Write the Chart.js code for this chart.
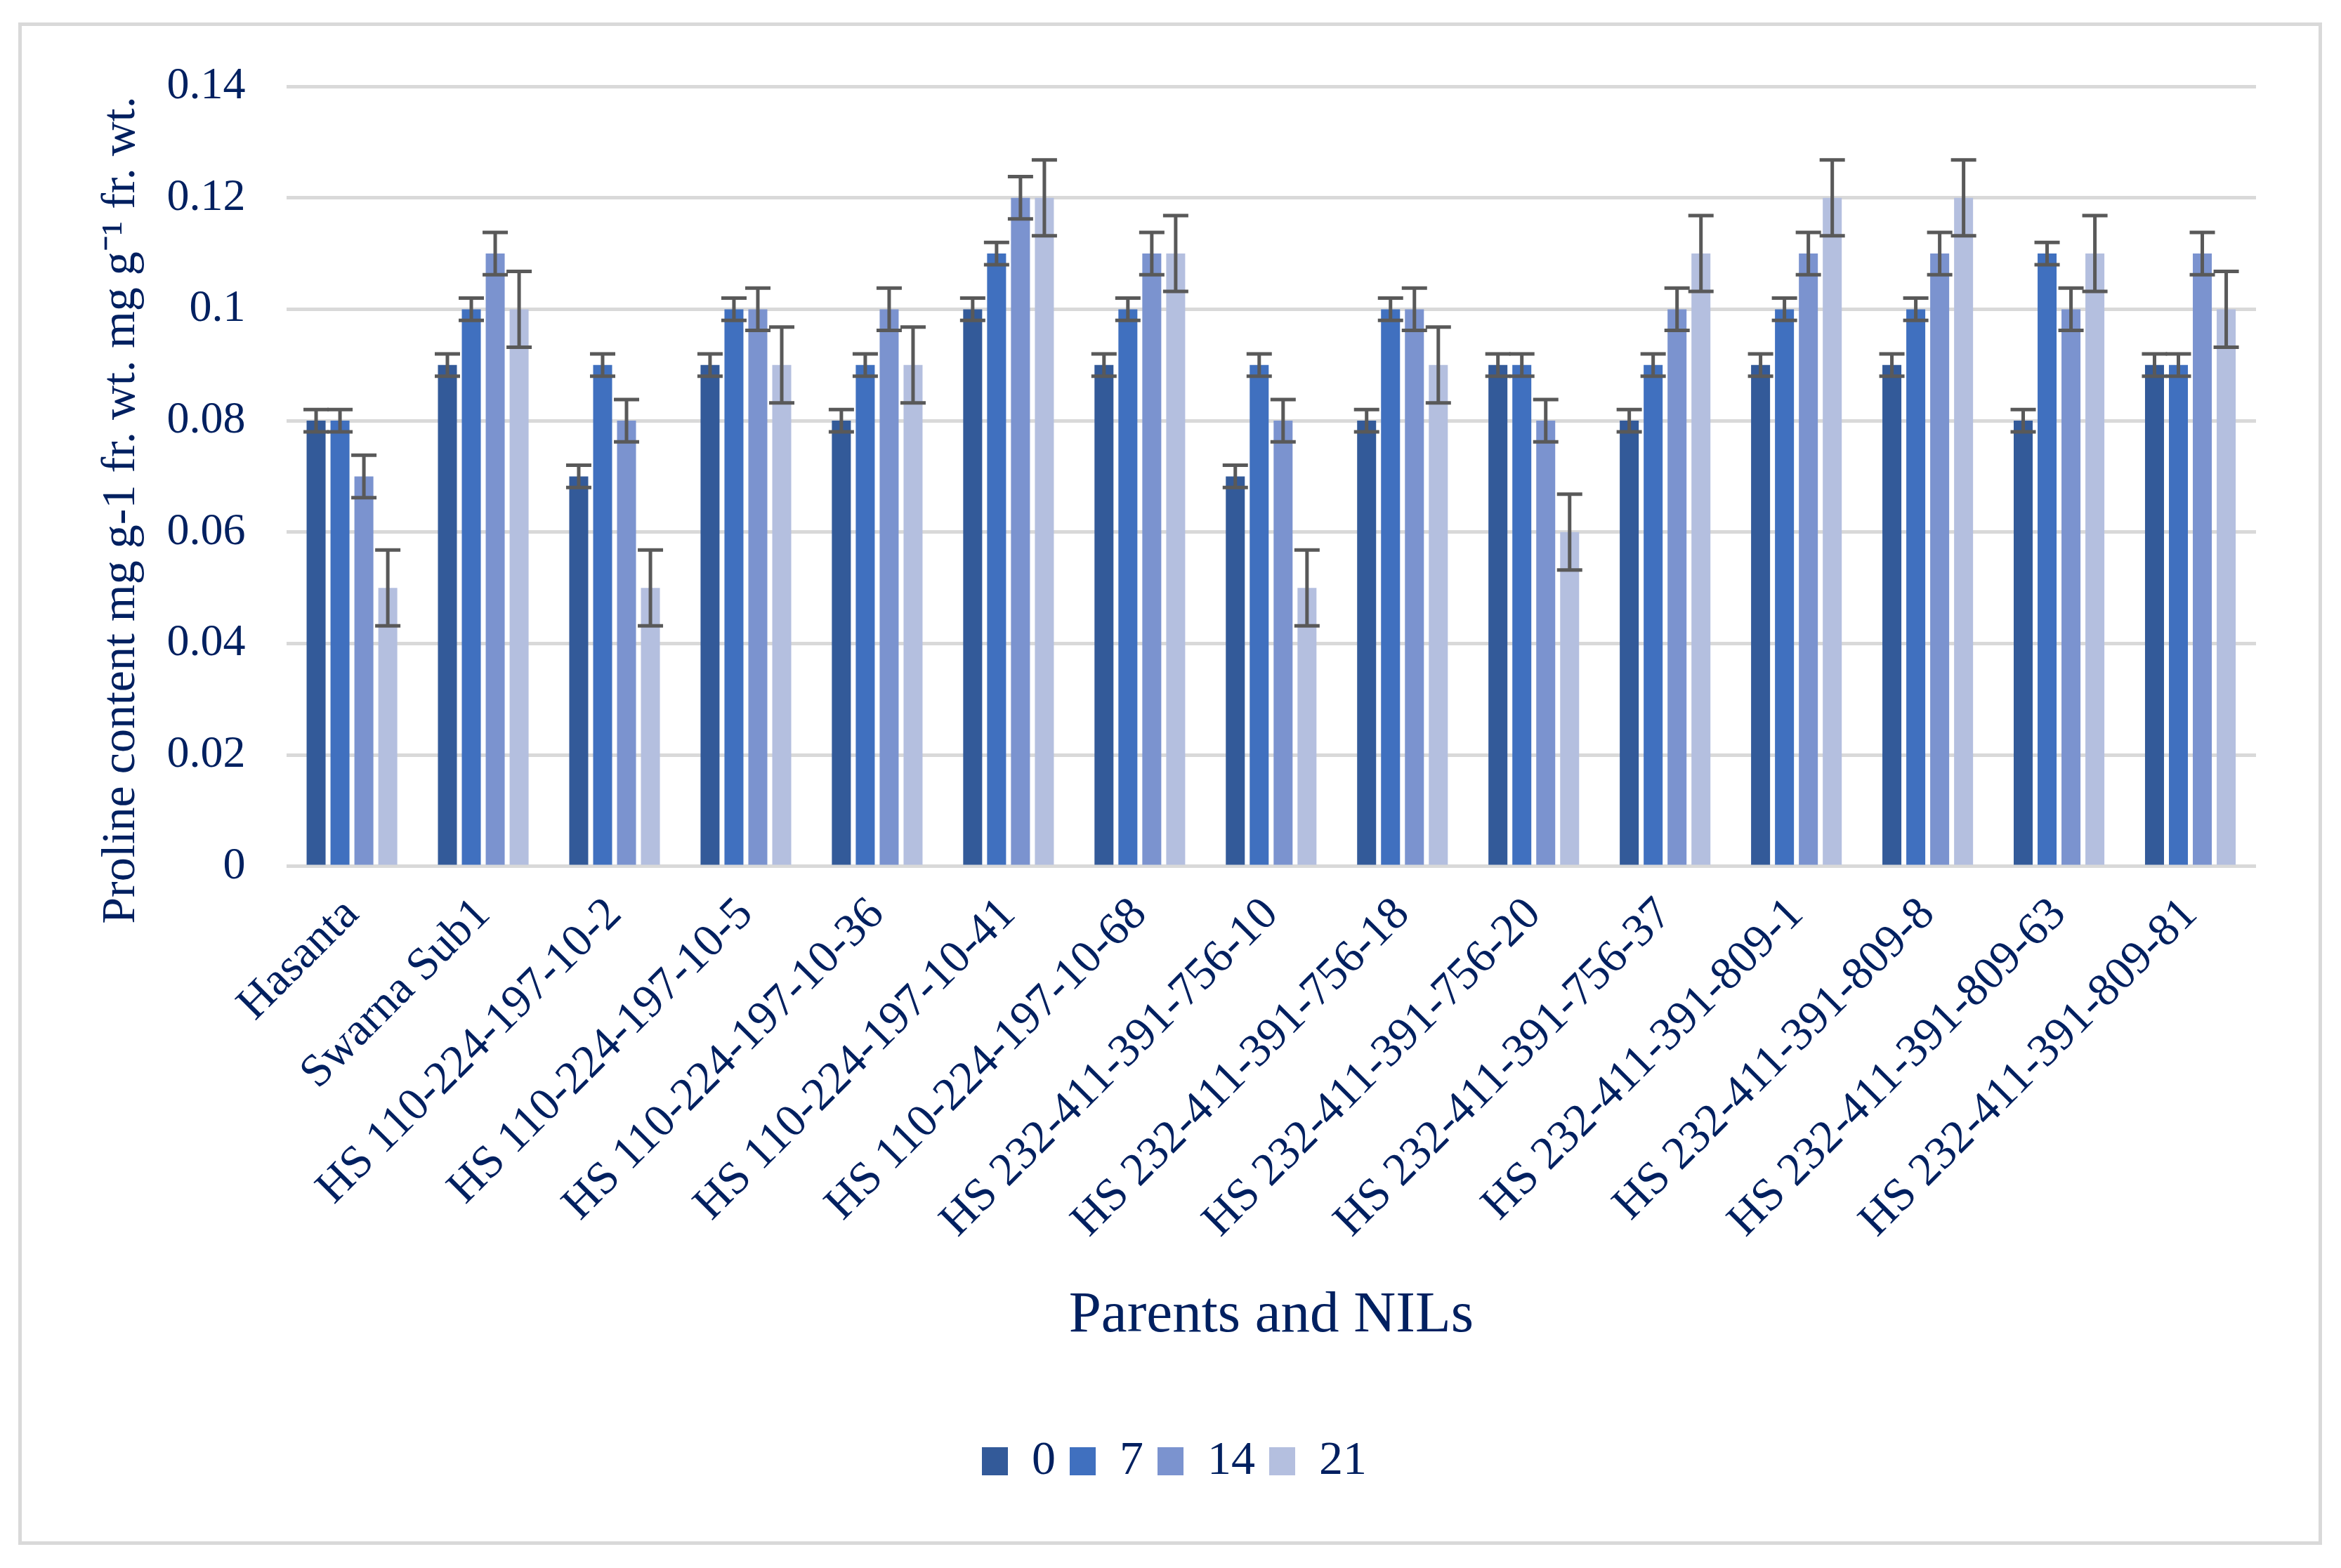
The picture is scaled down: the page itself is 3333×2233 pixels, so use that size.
<!DOCTYPE html><html lang="en"><head><meta charset="utf-8">
<title>Proline content</title>
<script src="https://cdn.jsdelivr.net/npm/chart.js@4/dist/chart.umd.min.js"></script>
<style>
body { margin: 0; background: #fff; }
#wrap { position: relative; width: 3333px; height: 2233px; }
#frame { position: absolute; left: 26px; top: 32px; width: 3280px; height: 2168px; border: 5px solid #d9d9d9; box-sizing: border-box; pointer-events: none; }
canvas { position: absolute; left: 0; top: 0; }
</style>
</head><body>
<div id="wrap">
<canvas id="chart" width="3333" height="2233"></canvas>
<div id="frame"></div>
</div>

<script>
const lines = [
  "Hasanta", "Swarna Sub1",
  "HS 110-224-197-10-2", "HS 110-224-197-10-5", "HS 110-224-197-10-36",
  "HS 110-224-197-10-41", "HS 110-224-197-10-68",
  "HS 232-411-391-756-10", "HS 232-411-391-756-18", "HS 232-411-391-756-20",
  "HS 232-411-391-756-37", "HS 232-411-391-809-1", "HS 232-411-391-809-8",
  "HS 232-411-391-809-63", "HS 232-411-391-809-81",
];
const days = ["0", "7", "14", "21"];

const day0  = [0.08, 0.09, 0.07, 0.09, 0.08, 0.10, 0.09, 0.07, 0.08, 0.09, 0.08, 0.09, 0.09, 0.08, 0.09];
const day7  = [0.08, 0.10, 0.09, 0.10, 0.09, 0.11, 0.10, 0.09, 0.10, 0.09, 0.09, 0.10, 0.10, 0.11, 0.09];
const day14 = [0.07, 0.11, 0.08, 0.10, 0.10, 0.12, 0.11, 0.08, 0.10, 0.08, 0.10, 0.11, 0.11, 0.10, 0.11];
const day21 = [0.05, 0.10, 0.05, 0.09, 0.09, 0.12, 0.11, 0.05, 0.09, 0.06, 0.11, 0.12, 0.12, 0.11, 0.10];

// error bar half-lengths
const err0  = [0.002, 0.002, 0.002, 0.002, 0.002, 0.002, 0.002, 0.002, 0.002, 0.002, 0.002, 0.002, 0.002, 0.002, 0.002];
const err7  = [0.002, 0.002, 0.002, 0.002, 0.002, 0.002, 0.002, 0.002, 0.002, 0.002, 0.002, 0.002, 0.002, 0.002, 0.002];
const err14 = [0.0038, 0.0038, 0.0038, 0.0038, 0.0038, 0.0038, 0.0038, 0.0038, 0.0038, 0.0038, 0.0038, 0.0038, 0.0038, 0.0038, 0.0038];
const err21 = [0.0068, 0.0068, 0.0068, 0.0068, 0.0068, 0.0068, 0.0068, 0.0068, 0.0068, 0.0068, 0.0068, 0.0068, 0.0068, 0.0068, 0.0068];

const yTicks = [0, 0.02, 0.04, 0.06, 0.08, 0.1, 0.12, 0.14];

const colors = ["#335a99", "#4070bf", "#7b93cf", "#b4bfdf"];
const navy = "#002060";
const serif = "'Liberation Serif', 'Times New Roman', serif";

const values = [day0, day7, day14, day21];
const errors = [err0, err7, err14, err21];

const errorBars = {
  id: "errorBars",
  afterDatasetsDraw(chart) {
    const ctx = chart.ctx;
    const y = chart.scales.y;
    ctx.save();
    ctx.strokeStyle = "#595959";
    ctx.lineWidth = 5;
    chart.data.datasets.forEach((ds, i) => {
      const meta = chart.getDatasetMeta(i);
      meta.data.forEach((bar, j) => {
        const v = ds.data[j], e = ds.err[j];
        const top = y.getPixelForValue(v + e);
        const bot = y.getPixelForValue(v - e);
        const half = 18;
        ctx.beginPath();
        ctx.moveTo(bar.x, top); ctx.lineTo(bar.x, bot);
        ctx.moveTo(bar.x - half, top); ctx.lineTo(bar.x + half, top);
        ctx.moveTo(bar.x - half, bot); ctx.lineTo(bar.x + half, bot);
        ctx.stroke();
      });
    });
    ctx.restore();
  }
};

// the y title sits a bit below the plot centre in the original
const shiftYTitle = {
  id: "shiftYTitle",
  beforeDraw(chart) {
    const s = chart.scales.y;
    if (s._shifted) return;
    s._shifted = true;
    const orig = s.drawTitle.bind(s);
    s.drawTitle = function () {
      const ctx = chart.ctx;
      ctx.save();
      ctx.translate(0, 48);
      orig();
      ctx.restore();
    };
  }
};

const datasets = days.map((d, i) => ({
  label: d,
  data: values[i],
  err: errors[i],
  backgroundColor: colors[i],
  categoryPercentage: 0.728,
  barPercentage: 0.794,
}));

new Chart(document.getElementById("chart"), {
  type: "bar",
  data: { labels: lines, datasets },
  plugins: [errorBars, shiftYTitle],
  options: {
    responsive: false,
    devicePixelRatio: 1,
    animation: false,
    layout: { padding: { left: 132, right: 121, top: 123, bottom: 108 } },
    plugins: {
      tooltip: { enabled: false },
      legend: {
        position: "bottom",
        labels: {
          color: navy,
          font: { family: serif, size: 68 },
          boxWidth: 37,
          boxHeight: 40,
          padding: 20,
        },
      },
    },
    scales: {
      x: {
        grid: { display: false },
        border: { display: false },
        ticks: {
          color: navy,
          font: { family: serif, size: 66 },
          minRotation: 45,
          maxRotation: 45,
          autoSkip: false,
          padding: 22,
        },
        title: {
          display: true,
          text: "Parents and NILs",
          color: navy,
          font: { family: serif, size: 83 },
          padding: { top: 24, bottom: 103 },
        },
      },
      y: {
        min: 0,
        max: 0.14,
        afterBuildTicks(axis) {
          axis.ticks = yTicks.map(v => ({ value: v }));
        },
        grid: { color: "#d9d9d9", lineWidth: 5, drawTicks: false },
        border: { display: false },
        ticks: {
          color: navy,
          font: { family: serif, size: 64 },
          padding: 58,
          callback: v => String(+v.toFixed(2)),
        },
        title: {
          display: true,
          text: "Proline content mg g-1 fr. wt. mg g\u207B\u00B9 fr. wt.",
          color: navy,
          font: { family: serif, size: 68 },
          padding: { top: 0, bottom: -34 },
        },
      },
    },
  },
});
</script>
</body></html>
